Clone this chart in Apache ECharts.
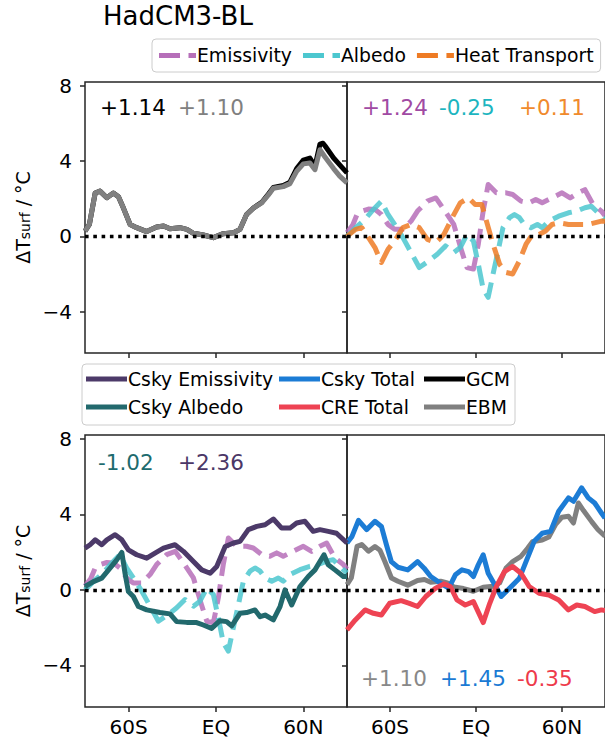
<!DOCTYPE html>
<html><head><meta charset="utf-8">
<script src="https://cdn.jsdelivr.net/npm/echarts@6/dist/echarts.min.js"></script>
<style>html,body{margin:0;padding:0;background:#fff}#c{width:605px;height:741px}</style>
</head><body><div id="c"></div>
<script>
// ---- tick labels ----
const latTicks = [-60, 0, 60];
const latTickLabels = ['60S', 'EQ', '60N'];
const yTicks = [-4, 0, 4, 8];

// ---- series values: [latitude, dT] ----
const gcm = [[-90,0.28],[-87,0.63],[-83,2.3],[-79.7,2.4],[-75,2.05],[-70.5,2.3],[-67,2.1],[-63.6,1.5],[-59,0.63],[-54.5,0.46],[-47.6,0.25],[-40.8,0.5],[-36,0.55],[-31.6,0.4],[-24.7,0.46],[-20,0.37],[-15.5,0.16],[-8.7,0.07],[-1.8,-0.07],[5,0.14],[12,0.19],[16.5,0.37],[21,1.16],[25.6,1.5],[31.4,1.8],[36,2.25],[39.4,2.6],[46.2,2.7],[50.8,2.88],[55.4,3.6],[60,4.05],[64.5,4.16],[68,3.72],[71.4,4.9],[73.5,4.95],[75,4.8],[80.8,4.16],[85,3.8],[90,3.37]];
const ebm = [[-90,0.28],[-87,0.63],[-83,2.3],[-79.7,2.4],[-75,2.05],[-70.5,2.3],[-67,2.1],[-63.6,1.5],[-59,0.63],[-54.5,0.46],[-47.6,0.25],[-40.8,0.5],[-36,0.55],[-31.6,0.4],[-24.7,0.46],[-20,0.37],[-15.5,0.16],[-8.7,0.07],[-1.8,-0.07],[5,0.14],[12,0.19],[16.5,0.37],[21,1.16],[25.6,1.5],[31.4,1.78],[36,2.2],[39.4,2.55],[46.2,2.64],[50.8,2.8],[55.4,3.45],[60,3.85],[64.5,3.9],[68,3.54],[71.4,4.6],[75,4.2],[80.8,3.6],[85,3.2],[90,2.84]];
const emissivity = [[-90,0.2],[-86,0.6],[-83,1.16],[-79.7,1.34],[-75,1.45],[-70.5,1.43],[-66,1.16],[-61.4,0.63],[-56.8,0.37],[-51,0.37],[-45.3,0.81],[-40.8,1.34],[-33.9,1.87],[-28,2.04],[-22.4,1.43],[-15.5,0.63],[-10,-0.78],[-6.3,-1.66],[-1.8,-1.74],[1.6,-0.42],[5,1.34],[8.5,2.75],[14.2,2.31],[21,2.31],[25.6,2.22],[31.4,1.87],[37,1.78],[41.7,1.96],[46.2,1.78],[53,2.04],[60,2.31],[65.7,2.04],[71.4,2.31],[76,2.48],[81.7,1.69],[87.5,1.34],[90,1.1]];
const albedo = [[-90,0],[-84,0.46],[-77.4,0.9],[-71.6,1.43],[-66,1.87],[-61.4,1.16],[-56.8,0.63],[-51,-0.07],[-45.3,-0.86],[-39.6,-1.66],[-32.8,-1.3],[-27,-0.95],[-21.3,-0.51],[-15.5,-0.86],[-11,-0.6],[-6.3,0.1],[-1.8,-0.25],[1.6,-1.48],[5,-2.8],[8.5,-3.24],[11.9,-2.0],[15.4,-0.78],[18.8,0.46],[23.4,0.99],[26.8,1.16],[30.3,0.99],[33.7,0.63],[38.3,0.46],[42.8,0.63],[46.2,0.46],[50.8,0.81],[57.7,1.07],[64.5,1.25],[70.3,1.34],[76,1.52],[80.5,1.6],[87.5,1.07],[90,0.9]];
const heatTransport = [[-90,0],[-84,0.37],[-79.7,0.46],[-75,-0.07],[-70.5,-0.6],[-66,-1.39],[-61.4,-0.69],[-56.8,-0.25],[-51,0.46],[-45.3,0.63],[-39.6,0.46],[-33.9,-0.16],[-28,-0.33],[-22.4,0.1],[-16.6,0.99],[-11,1.78],[-5.2,2.04],[-0.6,1.69],[4,1.69],[7.3,0.81],[11.9,-0.42],[16.5,-1.48],[21,-1.92],[25.6,-2.0],[30.3,-1.3],[34.9,-0.42],[39.4,0.1],[44,0.1],[48.5,0.28],[53,0.63],[57.7,0.72],[64.5,0.63],[71.4,0.63],[78.3,0.63],[87.5,0.81],[90,0.8]];
const cskyEmissivity = [[-90,2.21],[-86.5,2.39],[-83,2.65],[-78.5,2.39],[-75,2.65],[-69.3,2.92],[-64.7,2.65],[-60.2,2.12],[-54.5,1.86],[-47.6,1.68],[-41.9,1.95],[-36.1,2.21],[-28.2,2.39],[-22.4,2.04],[-15.5,1.5],[-9.8,1.06],[-4,0.88],[0.5,1.24],[6.3,2.3],[12,2.48],[16.5,2.57],[22.2,3.19],[28,3.36],[33.7,3.45],[39.4,3.75],[45.1,3.27],[50.8,3.27],[55.4,3.54],[61.1,3.63],[66.8,3.1],[71.4,3.19],[77.1,3.1],[82.8,3.0],[90,2.48]];
const cskyAlbedo = [[-90,0.18],[-84.2,0.44],[-78.5,0.62],[-72.8,1.15],[-68.2,1.59],[-64.7,1.98],[-62.5,0.88],[-60.2,-0.09],[-56.8,-0.35],[-53.3,-0.88],[-47.6,-1.06],[-38.5,-1.2],[-31.6,-1.27],[-27,-1.68],[-20.1,-1.72],[-13.3,-1.73],[-8.7,-1.86],[-3,-2.04],[2.7,-1.63],[7.3,-1.68],[10.8,-1.91],[16.5,-1.24],[21,-1.2],[26.8,-1.06],[30.3,-1.42],[33.7,-1.33],[39.4,-1.59],[44,-0.88],[47.4,0],[52,-0.8],[57.7,0.18],[63.4,0.71],[68,1.06],[71.4,1.5],[74.2,1.86],[77.1,1.33],[81.7,1.06],[87.5,0.71],[90,0.71]];
const cskyTotal = [[-90,2.48],[-86.5,2.83],[-82,3.68],[-76.3,3.19],[-70.5,3.63],[-66,3.36],[-62.5,2.39],[-59.1,1.5],[-54.5,1.2],[-47.6,1.06],[-40.8,1.5],[-36.2,1.15],[-31.6,0.71],[-24.7,0.35],[-19,0.09],[-14.4,0.8],[-9.8,1.06],[-5.2,0.97],[-1.8,0.71],[1.6,1.33],[5,1.86],[8.5,0.88],[13.1,0.27],[17.6,-0.35],[23.4,0.09],[30.3,0.62],[34.9,1.5],[40.6,2.57],[46.2,3.0],[52,3.1],[57.7,4.16],[64.5,4.87],[68,4.69],[73.7,5.4],[78.3,4.87],[82.8,4.6],[87.5,4.07],[90,3.8]];
const creTotal = [[-90,-2.12],[-84.2,-1.59],[-77.4,-1.06],[-71.6,-1.24],[-66,-1.33],[-60.2,-0.71],[-52.2,-0.57],[-46.5,-0.71],[-40.8,-0.88],[-35,-0.35],[-28.2,0.09],[-22.4,0.32],[-17.9,0.18],[-13.3,-0.53],[-7.5,-0.8],[-1.8,-0.62],[5,-1.73],[9.6,-0.71],[14.2,0.18],[19.9,0.97],[25.6,1.24],[31.4,0.88],[37.1,0.18],[44,-0.18],[50.8,-0.27],[57.7,-0.53],[64.5,-1.06],[70.3,-0.8],[76,-0.88],[82.8,-1.15],[87.5,-1.06],[90,-1.1]];

// ---- panel annotations (global means) ----
const annotTopLeft = ['+1.14', '+1.10'];
const annotTopRight = ['+1.24', '-0.25', '+0.11'];
const annotBottomLeft = ['-1.02', '+2.36'];
const annotBottomRight = ['+1.10', '+1.45', '-0.35'];

const FONT = 'DejaVu Sans';
const C = {
  emis: '#b66fb9', alb: '#4cc7cf', heat: '#ee7b24',
  cse: '#4c3a69', csa: '#22696d', cst: '#1c7cd5', cre: '#ee4353',
  gcm: '#000000', ebm: '#808080'
};
const AX = '#262626';
const DASH = [20, 8.5];
const dashedIcon = 'path://M0,0H21V5H0Z M29.5,0H37V5H29.5Z';

const grids = [
  {left: 85, top: 82, width: 262, height: 271},
  {left: 347, top: 82, width: 262, height: 271},
  {left: 85, top: 435, width: 262, height: 272},
  {left: 347, top: 435, width: 262, height: 272}
].map(g => Object.assign({show: true, borderColor: AX, borderWidth: 1.5, backgroundColor: 'transparent'}, g));

const yName = '{m|ΔT}{s|surf}{m| / °C}';
const xAxes = grids.map((g, i) => ({
  gridIndex: i, type: 'value', min: -90, max: 90, position: 'bottom',
  axisLine: {show: false, onZero: false}, splitLine: {show: false},
  axisTick: {show: true, length: 5, customValues: latTicks, lineStyle: {color: AX, width: 1.5}},
  axisLabel: {show: i >= 2, customValues: latTicks, margin: 10, fontSize: 20, fontFamily: FONT, color: '#000',
    formatter: v => latTickLabels[latTicks.indexOf(v)]}
}));
const yAxes = grids.map((g, i) => ({
  gridIndex: i, type: 'value', min: -6.2, max: 8.2, position: 'left',
  axisLine: {show: false, onZero: false}, splitLine: {show: false},
  axisTick: {show: true, length: 5, customValues: yTicks, lineStyle: {color: AX, width: 1.5}},
  axisLabel: {show: i % 2 === 0, customValues: yTicks, margin: 13, fontSize: 20, fontFamily: FONT, color: '#000',
    formatter: v => v < 0 ? '\u2212' + (-v) : String(v)},
  name: i % 2 === 0 ? yName : '',
  nameLocation: 'middle', nameGap: 53,
  nameTextStyle: {fontFamily: FONT, color: '#000', rich: {
    m: {fontSize: 19, fontFamily: FONT, color: '#000', lineHeight: 22, verticalAlign: 'bottom'},
    s: {fontSize: 14, fontFamily: FONT, color: '#000', lineHeight: 14, verticalAlign: 'bottom'}
  }}
}));

function line(name, data, grid, color, dashed, z) {
  return {
    name, type: 'line', data, xAxisIndex: grid, yAxisIndex: grid,
    showSymbol: false, symbol: 'none', silent: true, animation: false, z: z || 2,
    color: color,
    itemStyle: {color: color},
    lineStyle: {color: color, width: 5, type: dashed ? DASH : 'solid', cap: 'butt', join: 'round', opacity: dashed ? 0.85 : 1}
  };
}
function zero(grid) {
  return {
    name: 'zero' + grid, type: 'line', data: [], xAxisIndex: grid, yAxisIndex: grid, z: 10, silent: true, animation: false,
    markLine: {silent: true, symbol: 'none', animation: false, label: {show: false},
      lineStyle: {color: '#000', width: 3.3, type: [3.6, 4.7], cap: 'butt'},
      data: [{yAxis: 0}]}
  };
}

const series = [
  line('GCM', gcm, 0, C.gcm, false, 2),
  line('EBM', ebm, 0, C.ebm, false, 3),
  line('Emissivity', emissivity, 1, C.emis, true, 2),
  line('Albedo', albedo, 1, C.alb, true, 3),
  line('Heat Transport', heatTransport, 1, C.heat, true, 4),
  line('Emissivity', emissivity, 2, C.emis, true, 2),
  line('Albedo', albedo, 2, C.alb, true, 3),
  line('Csky Emissivity', cskyEmissivity, 2, C.cse, false, 4),
  line('Csky Albedo', cskyAlbedo, 2, C.csa, false, 5),
  line('EBM', ebm, 3, C.ebm, false, 2),
  line('Csky Total', cskyTotal, 3, C.cst, false, 3),
  line('CRE Total', creTotal, 3, C.cre, false, 4),
  zero(0), zero(1), zero(2), zero(3)
];

const legText = {fontSize: 18.8, fontFamily: FONT, color: '#000', lineHeight: 22};
const legends = [
  {left: 152, top: 39, orient: 'horizontal', padding: [5.5, 7, 5.5, 7], itemGap: 11, itemWidth: 37, itemHeight: 5,
    borderColor: '#cccccc', borderWidth: 1, borderRadius: 4, backgroundColor: 'rgba(255,255,255,0.8)',
    selectedMode: false, textStyle: Object.assign({padding: [0, 0, 0, -4]}, legText), itemStyle: {borderWidth: 0},
    data: [{name: 'Emissivity', icon: dashedIcon}, {name: 'Albedo', icon: dashedIcon}, {name: 'Heat Transport', icon: dashedIcon}]},
  {left: 86, top: 368, orient: 'vertical', padding: 0, itemGap: 6, itemWidth: 41, itemHeight: 5, z: 5,
    selectedMode: false, textStyle: Object.assign({padding: [0, 0, 0, -4]}, legText), itemStyle: {borderWidth: 0},
    data: [{name: 'Csky Emissivity', icon: 'rect'}, {name: 'Csky Albedo', icon: 'rect'}]},
  {left: 279, top: 368, orient: 'vertical', padding: 0, itemGap: 6, itemWidth: 41, itemHeight: 5, z: 5,
    selectedMode: false, textStyle: Object.assign({padding: [0, 0, 0, -4]}, legText), itemStyle: {borderWidth: 0},
    data: [{name: 'Csky Total', icon: 'rect'}, {name: 'CRE Total', icon: 'rect'}]},
  {left: 424, top: 368, orient: 'vertical', padding: 0, itemGap: 6, itemWidth: 41, itemHeight: 5, z: 5,
    selectedMode: false, textStyle: Object.assign({padding: [0, 0, 0, -4]}, legText), itemStyle: {borderWidth: 0},
    data: [{name: 'GCM', icon: 'rect'}, {name: 'EBM', icon: 'rect'}]}
];

function txt(t, x, y, color, size) {
  return {type: 'text', x: x, y: y, z: 20, silent: true,
    style: {text: t, fill: color, fontSize: size || 21.5, fontFamily: FONT, align: 'left', verticalAlign: 'middle'}};
}
const graphic = [
  txt('HadCM3-BL', 103, 16, '#000', 26),
  {type: 'rect', z: 1, silent: true, shape: {x: 82, y: 364, width: 433, height: 61, r: 4},
    style: {fill: 'rgba(255,255,255,0.8)', stroke: '#cccccc', lineWidth: 1}},
  txt(annotTopLeft[0], 100, 107, '#000000'),
  txt(annotTopLeft[1], 178, 107, '#808080'),
  txt(annotTopRight[0], 362, 107, '#a04aa3'),
  txt(annotTopRight[1], 439, 107, '#1db5c0'),
  txt(annotTopRight[2], 519, 107, '#f08a2c'),
  txt(annotBottomLeft[0], 98, 462, '#1d6b6e'),
  txt(annotBottomLeft[1], 178, 462, '#4b3767'),
  txt(annotBottomRight[0], 361, 678, '#888888'),
  txt(annotBottomRight[1], 440, 678, '#1a7ad4'),
  txt(annotBottomRight[2], 517, 678, '#ee3a4b')
];

const chart = echarts.init(document.getElementById('c'), null, {renderer: 'svg'});
chart.setOption({
  animation: false,
  backgroundColor: '#ffffff',
  textStyle: {fontFamily: FONT},
  grid: grids, xAxis: xAxes, yAxis: yAxes,
  legend: legends, series: series, graphic: graphic
});
</script></body></html>
